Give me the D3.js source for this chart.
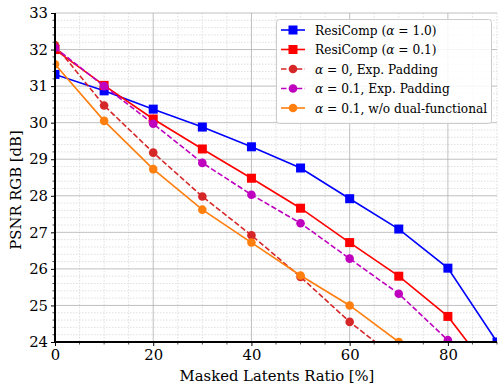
<!DOCTYPE html>
<html><head><meta charset="utf-8">
<script src="https://cdn.jsdelivr.net/npm/d3@7"></script>
<style>body{margin:0;background:#fff}svg{display:block}</style>
</head><body><svg id="c" width="498" height="386"></svg>
<script>
const xVals = [0, 10, 20, 30, 40, 50, 60, 70, 80, 90];
const resiComp10 = [31.32, 30.87, 30.37, 29.88, 29.34, 28.76, 27.92, 27.09, 26.02, 24.0];
const resiComp01 = [32.0, 31.02, 30.1, 29.28, 28.48, 27.66, 26.72, 25.8, 24.7, 22.95];
const alpha0ExpPad = [32.12, 30.47, 29.18, 27.98, 26.92, 25.78, 24.55, 23.5];
const alpha01ExpPad = [32.05, 31.0, 29.97, 28.9, 28.03, 27.25, 26.28, 25.32, 24.05];
const alpha01NoDual = [31.6, 30.05, 28.73, 27.62, 26.72, 25.82, 25.0, 24.0];
const xTicks = [0, 20, 40, 60, 80];
const yTicks = [24, 25, 26, 27, 28, 29, 30, 31, 32, 33];

const series = [
  {vals: resiComp10, color: "#0000ff", marker: "square", dash: null,
   label: [["ResiComp (",""],["α","i"],[" = 1.0)",""]]},
  {vals: resiComp01, color: "#ff0000", marker: "square", dash: null,
   label: [["ResiComp (",""],["α","i"],[" = 0.1)",""]]},
  {vals: alpha0ExpPad, color: "#d62728", marker: "circle", dash: "5.5,2.4",
   label: [["α","i"],[" = 0, Exp. Padding",""]]},
  {vals: alpha01ExpPad, color: "#bf00bf", marker: "circle", dash: "5.5,2.4",
   label: [["α","i"],[" = 0.1, Exp. Padding",""]]},
  {vals: alpha01NoDual, color: "#ff7f0e", marker: "circle", dash: null,
   label: [["α","i"],[" = 0.1, w/o dual-functional",""]]}
];

const FONT = "'DejaVu Serif'";
const AX = "14.8px";
const svg = d3.select("#c");
const L = 55, R = 497, T = 13, B = 342;
const x = d3.scaleLinear().domain([0, 90]).range([L, R]);
const y = d3.scaleLinear().domain([24, 33]).range([B, T]);

svg.append("defs").append("clipPath").attr("id","clip")
  .append("rect").attr("x", L).attr("y", T).attr("width", R-L).attr("height", B-T);

const g = svg.append("g");
g.selectAll(".mgx").data(d3.range(0, 91, 5).filter(v => v % 20 !== 0)).join("line")
  .attr("x1", d=>x(d)).attr("x2", d=>x(d)).attr("y1", T).attr("y2", B)
  .attr("stroke", "#d8d8d8").attr("stroke-width", 0.8).attr("stroke-dasharray", "1.5,1.5");
g.selectAll(".mgy").data(d3.range(24, 33.001, 0.2).filter(v => Math.abs(v - Math.round(v)) > 0.01)).join("line")
  .attr("x1", L).attr("x2", R).attr("y1", d=>y(d)).attr("y2", d=>y(d))
  .attr("stroke", "#d8d8d8").attr("stroke-width", 0.8).attr("stroke-dasharray", "1.5,1.5");
g.selectAll(".Mgx").data(xTicks).join("line")
  .attr("x1", d=>x(d)).attr("x2", d=>x(d)).attr("y1", T).attr("y2", B)
  .attr("stroke", "#b0b0b0").attr("stroke-width", 0.8);
g.selectAll(".Mgy").data(yTicks).join("line")
  .attr("x1", L).attr("x2", R).attr("y1", d=>y(d)).attr("y2", d=>y(d))
  .attr("stroke", "#b0b0b0").attr("stroke-width", 0.8);

const plot = svg.append("g").attr("clip-path", "url(#clip)");
series.forEach(s => {
  const pts = s.vals.map((v,i) => [xVals[i], v]);
  plot.append("path").datum(pts)
    .attr("d", d3.line().x(d=>x(d[0])).y(d=>y(d[1])))
    .attr("fill","none").attr("stroke", s.color).attr("stroke-width", 1.6)
    .attr("stroke-dasharray", s.dash);
  if (s.marker === "square") {
    plot.selectAll(null).data(pts).join("rect")
      .attr("x", d=>x(d[0])-4.5).attr("y", d=>y(d[1])-4.5).attr("width", 9).attr("height", 9)
      .attr("fill", s.color);
  } else {
    plot.selectAll(null).data(pts).join("circle")
      .attr("cx", d=>x(d[0])).attr("cy", d=>y(d[1])).attr("r", 4.3)
      .attr("fill", s.color);
  }
});

const xAxis = d3.axisBottom(x).tickValues(xTicks).tickSize(4).tickPadding(3).tickFormat(d3.format("d"));
const xa = svg.append("g").attr("transform", `translate(0,${B})`).call(xAxis);
xa.select(".domain").attr("stroke-width", 2).attr("d", `M${L-1},0H${R}`);
xa.selectAll("text").style("font-family", FONT).style("font-size", AX).attr("fill", "#000");
svg.append("g").attr("transform", `translate(0,${B})`)
  .selectAll("line").data(d3.range(0, 91, 5).filter(v => v % 20 !== 0)).join("line")
  .attr("x1", d=>x(d)).attr("x2", d=>x(d)).attr("y1", 0).attr("y2", 2.5).attr("stroke", "#000").attr("stroke-width", 0.7);

const yAxis = d3.axisLeft(y).tickValues(yTicks).tickSize(4).tickPadding(3).tickFormat(d3.format("d"));
const ya = svg.append("g").attr("transform", `translate(${L},0)`).call(yAxis);
ya.select(".domain").attr("stroke-width", 2).attr("d", `M0,${T}V${B+1}`);
ya.selectAll("text").style("font-family", FONT).style("font-size", AX).attr("fill", "#000");
svg.append("g").attr("transform", `translate(${L},0)`)
  .selectAll("line").data(d3.range(24, 33.001, 0.2).filter(v => Math.abs(v - Math.round(v)) > 0.01)).join("line")
  .attr("x1", 0).attr("x2", -2.5).attr("y1", d=>y(d)).attr("y2", d=>y(d)).attr("stroke", "#000").attr("stroke-width", 0.7);

svg.append("text").attr("x", 277).attr("y", 381).attr("text-anchor","middle")
  .style("font-family", FONT).style("font-size", AX).text("Masked Latents Ratio [%]");
svg.append("text").attr("transform", `translate(21,190) rotate(-90)`).attr("text-anchor","middle")
  .style("font-family", FONT).style("font-size", AX).text("PSNR RGB [dB]");

const lg = svg.append("g");
lg.append("rect").attr("x", 276.5).attr("y", 19.5).attr("width", 215).attr("height", 104).attr("rx", 3)
  .attr("fill", "#fff").attr("fill-opacity", 0.85).attr("stroke", "#cccccc").attr("stroke-width", 1);
series.forEach((s, i) => {
  const yy = 30 + i * 19.5;
  lg.append("line").attr("x1", 281).attr("x2", 305).attr("y1", yy).attr("y2", yy)
    .attr("stroke", s.color).attr("stroke-width", 1.6).attr("stroke-dasharray", s.dash);
  if (s.marker === "square") lg.append("rect").attr("x", 288.5).attr("y", yy-4.5).attr("width", 9).attr("height", 9).attr("fill", s.color);
  else lg.append("circle").attr("cx", 293).attr("cy", yy).attr("r", 4.3).attr("fill", s.color);
  const t = lg.append("text").attr("x", 315).attr("y", yy + 4.5).style("font-family", FONT).style("font-size", "12.2px");
  s.label.forEach(p => t.append("tspan").style("font-style", p[1] === "i" ? "italic" : null).text(p[0]));
});
</script></body></html>
